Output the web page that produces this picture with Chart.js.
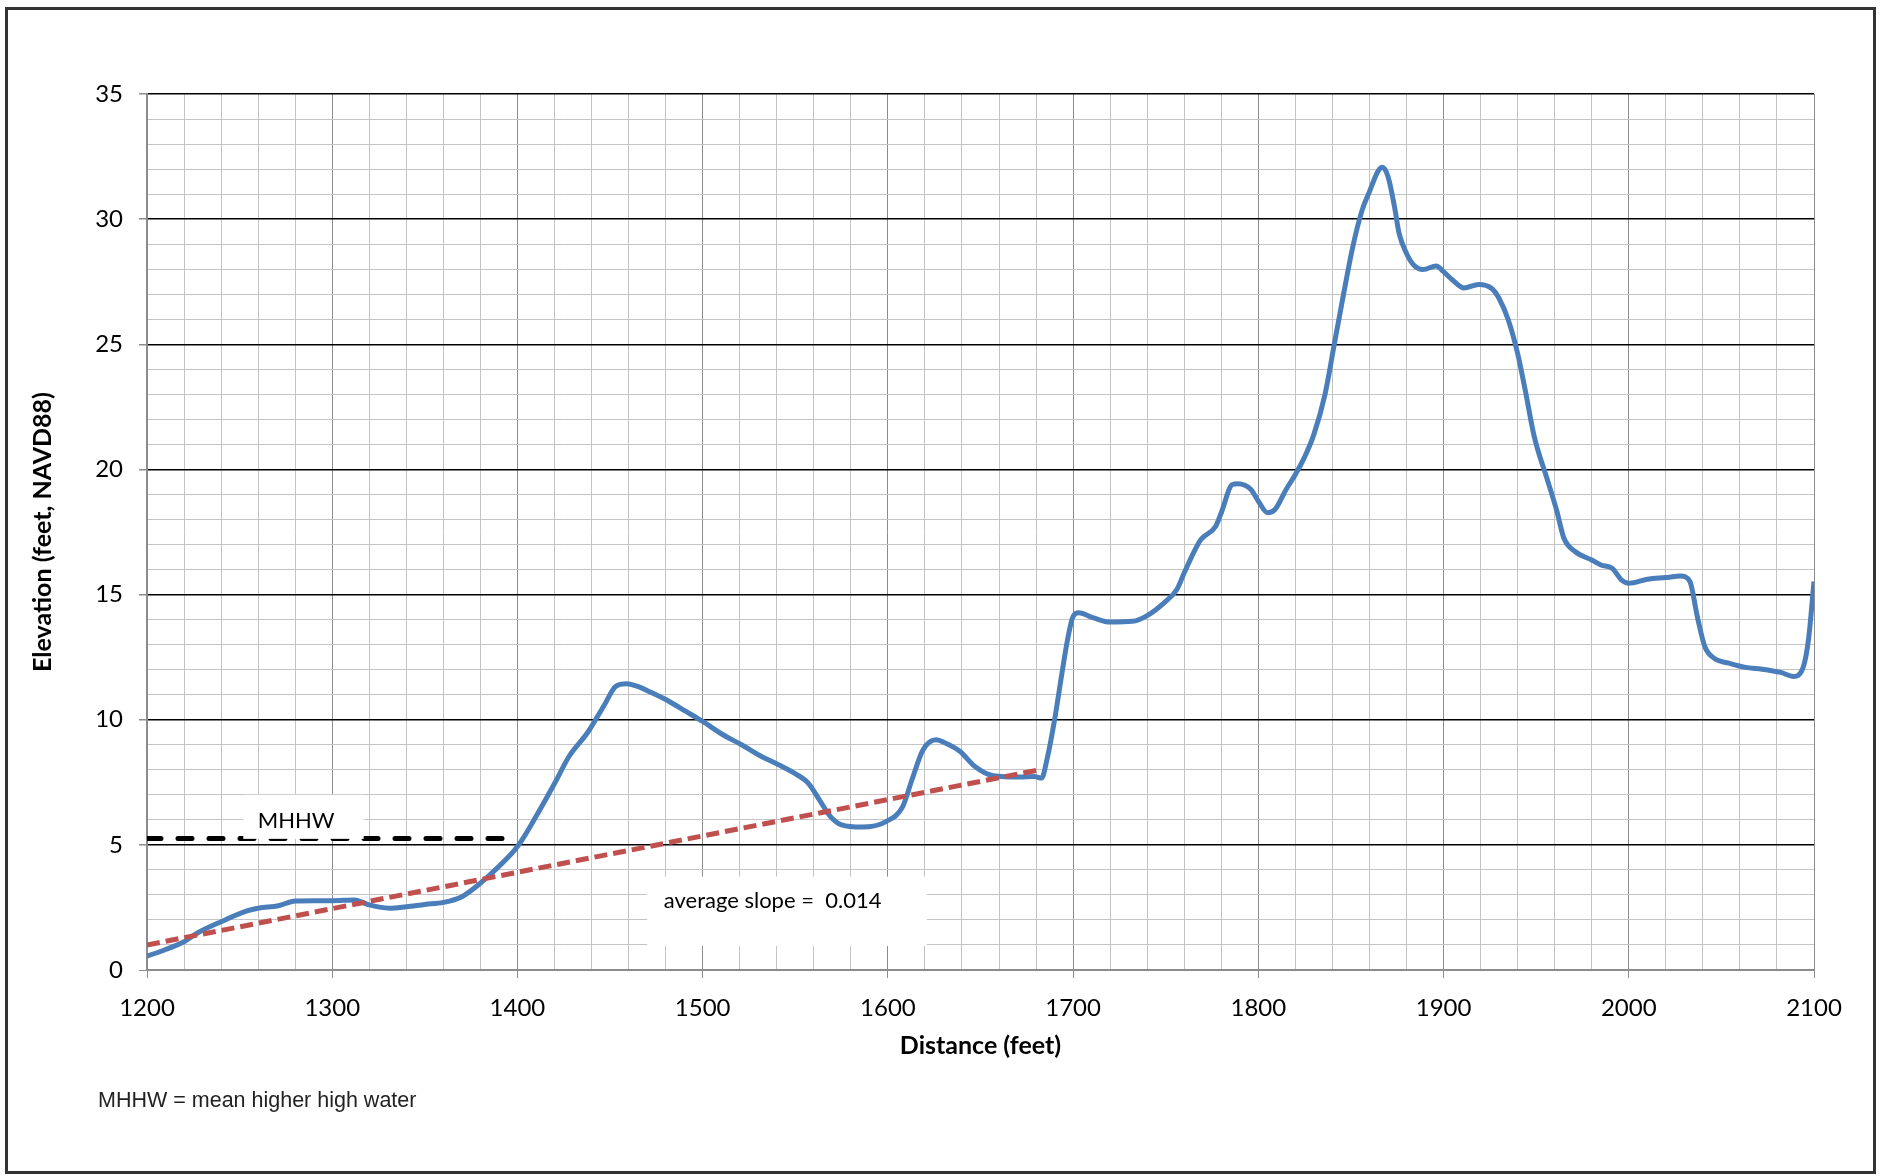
<!DOCTYPE html>
<html>
<head>
<meta charset="utf-8">
<title>Elevation profile</title>
<script src="https://cdn.jsdelivr.net/npm/chart.js@4.4.1/dist/chart.umd.min.js"></script>
<style>
  body { margin: 0; background: #fff; }
  canvas { display: block; }
</style>
</head>
<body>
<canvas id="profileChart" width="1881" height="1176"></canvas>
<script>
// ground profile (distance in feet, elevation in feet NAVD88)
const profileDist = [
  1200, 1210, 1220, 1227, 1240, 1254, 1260, 1271, 1280, 1290, 1300, 1312, 1320, 1331, 1340, 1350,
  1360, 1370, 1380, 1389, 1400, 1410, 1420, 1428, 1438, 1447, 1453, 1459, 1466, 1471, 1482, 1491,
  1500, 1511, 1521, 1531, 1541, 1551, 1557, 1563, 1569, 1575, 1586, 1599, 1608, 1613, 1619, 1626,
  1631, 1639, 1647, 1657, 1671, 1679, 1683, 1686, 1690, 1694, 1697, 1700, 1703, 1711, 1720, 1732,
  1740, 1750, 1756, 1760, 1765, 1769, 1777, 1780, 1786, 1789, 1796, 1800, 1805, 1809, 1815, 1820,
  1825, 1830, 1836, 1841, 1846, 1851, 1856, 1860, 1864.5, 1867, 1870, 1873.5, 1876, 1880,
  1884, 1889, 1896, 1900, 1905, 1911, 1919, 1926, 1930, 1935, 1940, 1944, 1949, 1956, 1961, 1965,
  1971, 1980, 1985, 1991, 1996, 2000, 2010, 2020, 2028, 2033, 2037, 2041, 2046, 2054, 2063, 2072,
  2082, 2089, 2094, 2097, 2100
];
const profileElev = [
  0.55, 0.82, 1.13, 1.47, 1.93, 2.36, 2.47, 2.57, 2.76, 2.77, 2.77, 2.8, 2.6, 2.47, 2.53, 2.62,
  2.7, 2.93, 3.47, 4.07, 4.93, 6.13, 7.45, 8.55, 9.5, 10.6, 11.33, 11.44, 11.3, 11.13, 10.73, 10.33,
  9.93, 9.4, 9.0, 8.56, 8.2, 7.8, 7.47, 6.8, 6.13, 5.8, 5.71, 5.93, 6.53, 7.6, 8.8, 9.2,
  9.07, 8.73, 8.13, 7.76, 7.71, 7.73, 7.67, 8.45, 10.0, 11.87, 13.2, 14.13, 14.27, 14.07, 13.9, 13.93,
  14.16, 14.73, 15.2, 15.87, 16.67, 17.2, 17.73, 18.27, 19.4, 19.43, 19.2, 18.73, 18.27, 18.4, 19.2, 19.8,
  20.5, 21.4, 23.0, 25.0, 27.0, 28.9, 30.35, 31.1, 31.9, 32.07, 31.7, 30.5, 29.43, 28.63,
  28.16, 27.99, 28.13, 27.9, 27.56, 27.25, 27.39, 27.23, 26.83, 25.96, 24.63, 23.2, 21.3, 19.6, 18.38, 17.25,
  16.72, 16.38, 16.18, 16.05, 15.59, 15.45, 15.61, 15.68, 15.74, 15.52, 14.12, 12.93, 12.46, 12.26, 12.09, 12.02,
  11.89, 11.73, 12.06, 13.19, 15.52
];

// average slope trend line
const slopeDist = [1200, 1682];
const slopeElev = [1.0, 8.0];

// mean higher high water
const mhhwDist = [1200, 1400];
const mhhwElev = [5.25, 5.25];

// axis ticks
const xTickLabels = [1200, 1300, 1400, 1500, 1600, 1700, 1800, 1900, 2000, 2100];
const yTickLabels = [0, 5, 10, 15, 20, 25, 30, 35];

const toPoints = (xs, ys) => xs.map((x, i) => ({ x: x, y: ys[i] }));

Chart.defaults.font.family = 'Lato';
Chart.defaults.color = '#000';

const overlays = {
  id: 'overlays',
  afterDatasetsDraw(chart) {
    const { ctx } = chart;
    const x = chart.scales.x, y = chart.scales.y;
    ctx.save();

    // MHHW label box
    ctx.fillStyle = '#fff';
    ctx.fillRect(x.getPixelForValue(1252), y.getPixelForValue(7.0),
      x.getPixelForValue(1317) - x.getPixelForValue(1252),
      y.getPixelForValue(5.24) - y.getPixelForValue(7.0));
    ctx.fillStyle = '#000';
    ctx.font = '22px Lato';
    ctx.textAlign = 'center';
    ctx.textBaseline = 'middle';
    ctx.fillText('MHHW', x.getPixelForValue(1280.5), y.getPixelForValue(5.96));

    // average slope box
    ctx.fillStyle = '#fff';
    ctx.fillRect(x.getPixelForValue(1470), y.getPixelForValue(3.73),
      x.getPixelForValue(1621) - x.getPixelForValue(1470),
      y.getPixelForValue(0.96) - y.getPixelForValue(3.73));
    ctx.fillStyle = '#000';
    ctx.textAlign = 'left';
    ctx.fillText('average slope =  0.014', x.getPixelForValue(1479), y.getPixelForValue(2.77));
    ctx.restore();
  },
  afterDraw(chart) {
    const { ctx } = chart;
    ctx.save();
    ctx.fillStyle = '#222';
    ctx.font = '21.5px "Liberation Sans"';
    ctx.textAlign = 'left';
    ctx.textBaseline = 'middle';
    ctx.fillText('MHHW = mean higher high water', 98, 1101);

    ctx.strokeStyle = '#333';
    ctx.lineWidth = 3;
    ctx.strokeRect(6.5, 8.5, 1868, 1164);
    ctx.restore();
  }
};

new Chart(document.getElementById('profileChart'), {
  type: 'line',
  data: {
    datasets: [
      {
        label: 'average slope',
        data: toPoints(slopeDist, slopeElev),
        borderColor: '#c0504d',
        borderWidth: 5,
        borderDash: [13, 6],
        pointRadius: 0
      },
      {
        label: 'MHHW',
        data: toPoints(mhhwDist, mhhwElev),
        borderColor: '#000',
        borderWidth: 5,
        borderDash: [14, 17],
        borderCapStyle: 'round',
        pointRadius: 0
      },
      {
        label: 'profile',
        data: toPoints(profileDist, profileElev),
        borderColor: '#4a7ebb',
        borderWidth: 5,
        cubicInterpolationMode: 'monotone',
        pointRadius: 0
      }
    ]
  },
  options: {
    responsive: false,
    animation: false,
    layout: { padding: { left: 0, top: 94, right: 67, bottom: 115 } },
    plugins: {
      legend: { display: false },
      tooltip: { enabled: false }
    },
    scales: {
      x: {
        type: 'linear',
        min: 1200,
        max: 2100,
        afterFit: s => { s.height = 91; },
        afterBuildTicks: s => {
          const t = [];
          for (let v = 1200; v <= 2100; v += 20) t.push({ value: v });
          s.ticks = t;
        },
        ticks: {
          autoSkip: false,
          maxRotation: 0,
          padding: 16,
          font: { size: 24 },
          callback: v => xTickLabels.includes(v) ? String(v) : ''
        },
        grid: {
          color: c => (c.tick && c.tick.value % 100 === 0) ? '#8c8c8c' : '#c4c4c4',
          tickColor: c => (c.tick && c.tick.value % 100 === 0) ? '#8c8c8c' : 'rgba(0,0,0,0)',
          tickLength: 8,
          lineWidth: 1
        },
        border: { color: '#8c8c8c', width: 2 },
        title: {
          display: true,
          text: 'Distance (feet)',
          font: { size: 25, weight: 'bold' },
          padding: { top: 0, bottom: 0 }
        }
      },
      y: {
        min: 0,
        max: 35,
        afterFit: s => { s.width = 147; },
        afterBuildTicks: s => {
          const t = [];
          for (let v = 0; v <= 35; v += 1) t.push({ value: v });
          s.ticks = t;
        },
        ticks: {
          autoSkip: false,
          padding: 16,
          font: { size: 24 },
          callback: v => yTickLabels.includes(v) ? String(v) : ''
        },
        grid: {
          color: c => {
            if (!c.tick) return '#c4c4c4';
            if (c.tick.value === 0) return '#8c8c8c';
            return c.tick.value % 5 === 0 ? '#000' : '#c4c4c4';
          },
          lineWidth: c => (c.tick && c.tick.value % 5 === 0 && c.tick.value !== 0) ? 1.5 : 1,
          tickColor: c => (c.tick && c.tick.value % 5 === 0) ? '#8c8c8c' : 'rgba(0,0,0,0)',
          tickLength: 8
        },
        border: { color: '#8c8c8c', width: 2 },
        title: {
          display: true,
          text: 'Elevation (feet, NAVD88)',
          font: { size: 25, weight: 'bold' },
          padding: { top: 28, bottom: 0 }
        }
      }
    }
  },
  plugins: [overlays]
});
</script>
</body>
</html>
